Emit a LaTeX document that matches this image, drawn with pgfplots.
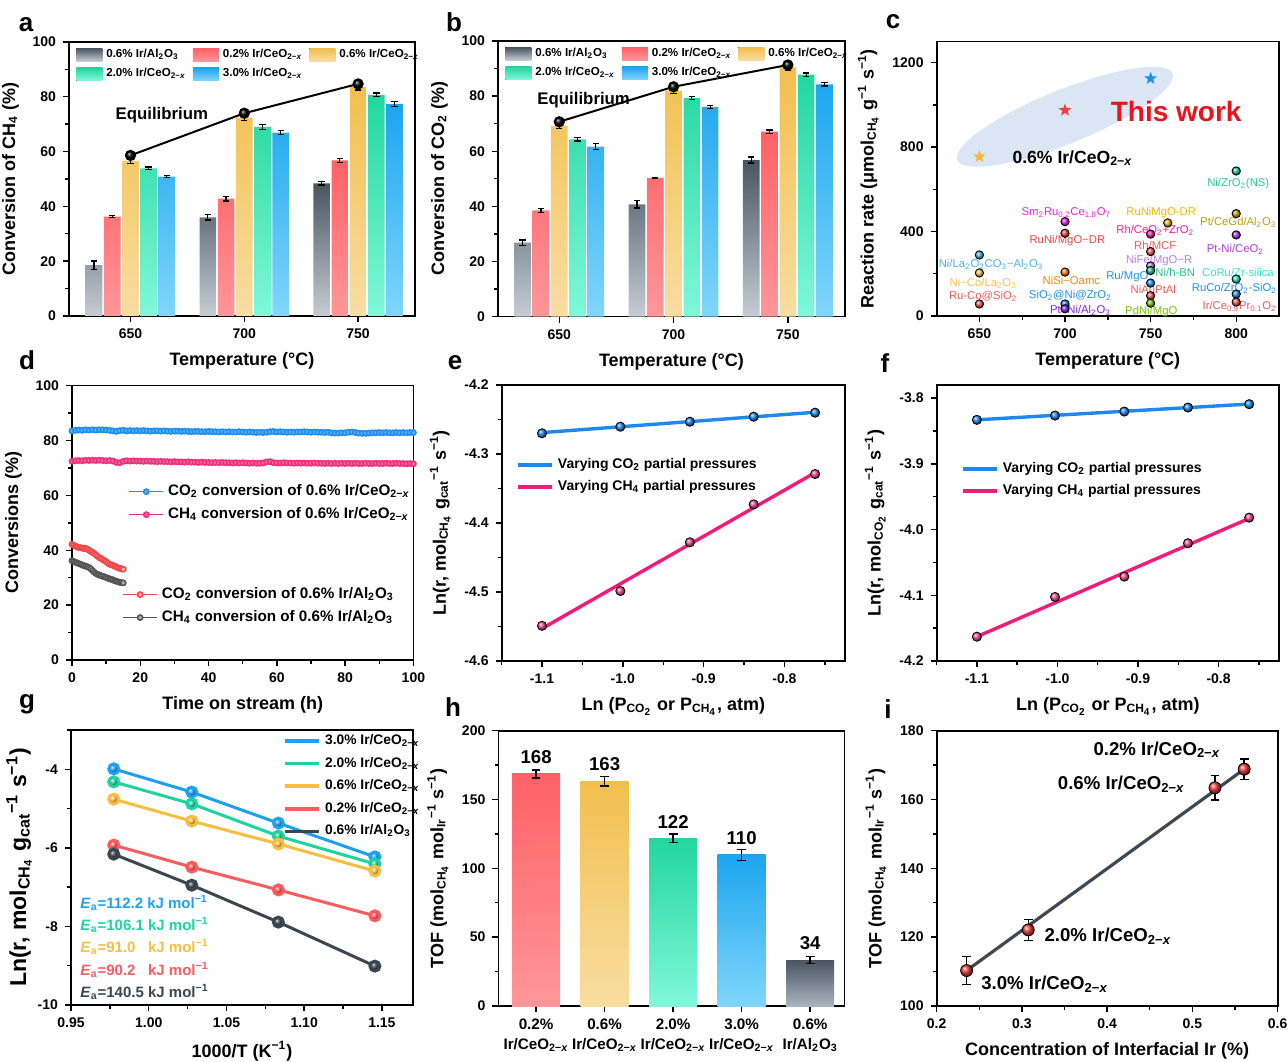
\documentclass[border=0pt]{standalone}
\usepackage{pgfplots}
\pgfplotsset{compat=1.18}
\usepackage{fontspec}
\setmainfont{Liberation Sans}
\definecolor{alT}{HTML}{4A5562}\definecolor{alB}{HTML}{C5CCD3}
\definecolor{rdT}{HTML}{FF6166}\definecolor{rdB}{HTML}{FF9699}
\definecolor{orT}{HTML}{F2BF4D}\definecolor{orB}{HTML}{F8DDA2}
\definecolor{grT}{HTML}{22D69E}\definecolor{grB}{HTML}{80F8DA}
\definecolor{blT}{HTML}{1CA5EF}\definecolor{blB}{HTML}{80D6FB}
\definecolor{hgB}{HTML}{A9B4BF}
\definecolor{ellc}{HTML}{DAE6F3}
\definecolor{starO}{HTML}{F5B83D}\definecolor{starR}{HTML}{EE4040}\definecolor{starB}{HTML}{1E90F0}
\definecolor{dblue}{HTML}{1E8FF0}\definecolor{dpink}{HTML}{EF2F7D}\definecolor{dred}{HTML}{F04848}\definecolor{dgray}{HTML}{555555}
\definecolor{eblue}{HTML}{1E88F0}\definecolor{epink}{HTML}{F21B7A}
\definecolor{gblue}{HTML}{1EA0F0}\definecolor{ggreen}{HTML}{1ED3A0}\definecolor{gorange}{HTML}{F7BE3F}\definecolor{gred}{HTML}{FF5A5E}\definecolor{gdark}{HTML}{3C4651}
\definecolor{iline}{HTML}{3D4A55}\definecolor{ired}{HTML}{F03C3C}
\definecolor{twork}{HTML}{E8151F}
\definecolor{cNiZr}{HTML}{1FD19B}\definecolor{cPtCeGd}{HTML}{C89B0A}\definecolor{cPtNiCe}{HTML}{B03AE0}
\definecolor{cCoRu}{HTML}{2EE6C9}\definecolor{cRuCo}{HTML}{1E90F0}\definecolor{cIrCe}{HTML}{F05A5A}
\definecolor{cRuNiMgO}{HTML}{F5B800}\definecolor{cRhCe}{HTML}{FF1AA0}\definecolor{cNiFe}{HTML}{B77CF2}
\definecolor{cNihBN}{HTML}{22C38D}\definecolor{cPdNi}{HTML}{79C600}\definecolor{cSm}{HTML}{FF1AE6}
\definecolor{cRuNi}{HTML}{F04545}\definecolor{cNiSi}{HTML}{FF7F0E}\definecolor{cPtNiAl}{HTML}{8A20F0}
\definecolor{cNiLa}{HTML}{4BB0E8}\definecolor{cNiCo}{HTML}{FFC04A}
\pgfdeclareplotmark{fstar}{%
  \pgfpathmoveto{\pgfpointpolar{90}{\pgfplotmarksize}}%
  \pgfpathlineto{\pgfpointpolar{126}{0.42\pgfplotmarksize}}%
  \pgfpathlineto{\pgfpointpolar{162}{\pgfplotmarksize}}%
  \pgfpathlineto{\pgfpointpolar{198}{0.42\pgfplotmarksize}}%
  \pgfpathlineto{\pgfpointpolar{234}{\pgfplotmarksize}}%
  \pgfpathlineto{\pgfpointpolar{270}{0.42\pgfplotmarksize}}%
  \pgfpathlineto{\pgfpointpolar{306}{\pgfplotmarksize}}%
  \pgfpathlineto{\pgfpointpolar{342}{0.42\pgfplotmarksize}}%
  \pgfpathlineto{\pgfpointpolar{18}{\pgfplotmarksize}}%
  \pgfpathlineto{\pgfpointpolar{54}{0.42\pgfplotmarksize}}%
  \pgfpathclose\pgfusepathqfill}
\newcommand{\sub}[1]{\textsubscript{#1}}
\newcommand{\sups}[1]{\textsuperscript{#1}}
\newcommand{\ceo}{CeO\sub{2−\textit{x}}}
\newcommand{\lab}[4]{\node[text=#3,font=\fontsize{5.65}{6.5}\selectfont,inner sep=0pt] at (axis cs:#1,#2) {#4};}
\newcommand{\ptc}[3]{\addplot[only marks,mark=ball,mark size=2.1pt,mark options={ball color=#3}] coordinates {(#1,#2)};}
\pgfplotsset{
  every axis/.append style={
    scale only axis, clip=false, anchor=south west,
    axis line style={line width=0.9pt},
    tick style={black,line width=0.7pt},
    major tick length=3pt, minor tick length=1.8pt,
    tick align=outside, xtick pos=left, ytick pos=left,
    tick label style={font=\bfseries\fontsize{7}{8}\selectfont},
    label style={font=\bfseries\fontsize{9}{10}\selectfont},
    /pgf/number format/assume math mode=true,
    /pgf/number format/1000 sep={},
    legend cell align=left,
  },
  barlegend/.style={
    legend columns=3,
    legend style={at={(0.02,0.99)}, anchor=north west, draw=none, fill=none, inner sep=0pt,
      font=\bfseries\fontsize{5.8}{6.5}\selectfont, row sep=0pt,
      /tikz/every even column/.append style={column sep=1.5pt}},
    legend image code/.code={\fill[##1] (0pt,-3.2pt) rectangle (13pt,3.2pt);},
  },
  ebar/.style={forget plot, draw=none, mark=none, error bars/.cd, y dir=both, y explicit,
    error bar style={draw=black,solid,line width=0.6pt}, error mark options={draw=black,solid,rotate=90,mark size=1.6pt,line width=0.6pt}},
  ebarh/.style={forget plot, draw=none, mark=none, error bars/.cd, y dir=both, y explicit,
    error bar style={draw=black,solid,line width=0.8pt}, error mark options={draw=black,solid,rotate=90,mark size=2.2pt,line width=0.8pt}},
}
\begin{document}
\begin{tikzpicture}
\useasboundingbox (0,0) rectangle (644pt,530.5pt);
% ---------------- panel a
\begin{axis}[at={(34.5pt,372.5pt)}, width=173pt, height=137pt, barlegend,
  xmin=623, xmax=775, ymin=0, ymax=100,
  xtick={650,700,750}, ytick={0,20,...,100}, minor y tick num=1,
  xlabel={Temperature (°C)}, ylabel={Conversion of CH\sub{4} (\%)}]
\addplot[ybar, bar width=7.3, bar shift=0pt, draw=none, top color=alT, bottom color=alB] coordinates {(634,18.6) (684,36.0) (734,48.4)};
\addlegendentry{0.6\% Ir/Al\sub{2}O\sub{3}}
\addplot[ybar, bar width=7.3, bar shift=0pt, draw=none, top color=rdT, bottom color=rdB] coordinates {(642,36.3) (692,42.8) (742,56.8)};
\addlegendentry{0.2\% Ir/\ceo}
\addplot[ybar, bar width=7.3, bar shift=0pt, draw=none, top color=orT, bottom color=orB] coordinates {(650,56.6) (700,72.4) (750,83.5)};
\addlegendentry{0.6\% Ir/\ceo}
\addplot[ybar, bar width=7.3, bar shift=0pt, draw=none, top color=grT, bottom color=grB] coordinates {(658,53.9) (708,69.0) (758,80.7)};
\addlegendentry{2.0\% Ir/\ceo}
\addplot[ybar, bar width=7.3, bar shift=0pt, draw=none, top color=blT, bottom color=blB] coordinates {(666,50.9) (716,66.9) (766,77.4)};
\addlegendentry{3.0\% Ir/\ceo}
\addplot[ebar] coordinates {(634,18.6)+-(0,1.5) (684,36.0)+-(0,1.0) (734,48.4)+-(0,0.6)
 (642,36.3)+-(0,0.4) (692,42.8)+-(0,0.8) (742,56.8)+-(0,0.8)
 (650,56.6)+-(0,1.0) (700,72.4)+-(0,1.0) (750,83.5)+-(0,1.0)
 (658,53.9)+-(0,0.5) (708,69.0)+-(0,1.0) (758,80.7)+-(0,0.7)
 (666,50.9)+-(0,0.5) (716,66.9)+-(0,0.7) (766,77.4)+-(0,0.9)};
\addplot[forget plot, black, line width=1pt, mark=ball, mark size=2.3pt, mark options={ball color=black}] coordinates {(650,58.6)(700,74.0)(750,84.7)};
\node[font=\bfseries\fontsize{8.4}{9}\selectfont, anchor=base west, inner sep=0pt] at (axis cs:643.3,71.8) {Equilibrium};
\end{axis}
% ---------------- panel b
\begin{axis}[at={(249pt,372.2pt)}, width=173.5pt, height=137.8pt, barlegend,
  xmin=623.2, xmax=775, ymin=0, ymax=100,
  xtick={650,700,750}, ytick={0,20,...,100}, minor y tick num=1,
  xlabel={Temperature (°C)}, ylabel={Conversion of CO\sub{2} (\%)}]
\addplot[ybar, bar width=7.3, bar shift=0pt, draw=none, top color=alT, bottom color=alB] coordinates {(634,26.8) (684,40.7) (734,56.8)};
\addlegendentry{0.6\% Ir/Al\sub{2}O\sub{3}}
\addplot[ybar, bar width=7.3, bar shift=0pt, draw=none, top color=rdT, bottom color=rdB] coordinates {(642,38.5) (692,50.3) (742,67.1)};
\addlegendentry{0.2\% Ir/\ceo}
\addplot[ybar, bar width=7.3, bar shift=0pt, draw=none, top color=orT, bottom color=orB] coordinates {(650,69.2) (700,82.0) (750,90.4)};
\addlegendentry{0.6\% Ir/\ceo}
\addplot[ybar, bar width=7.3, bar shift=0pt, draw=none, top color=grT, bottom color=grB] coordinates {(658,64.3) (708,79.4) (758,87.8)};
\addlegendentry{2.0\% Ir/\ceo}
\addplot[ybar, bar width=7.3, bar shift=0pt, draw=none, top color=blT, bottom color=blB] coordinates {(666,61.7) (716,76.1) (766,84.3)};
\addlegendentry{3.0\% Ir/\ceo}
\addplot[ebar] coordinates {(634,26.8)+-(0,1.0) (684,40.7)+-(0,1.3) (734,56.8)+-(0,1.1)
 (642,38.5)+-(0,0.6) (692,50.3)+-(0,0.3) (742,67.1)+-(0,0.6)
 (650,69.2)+-(0,1.0) (700,82.0)+-(0,1.0) (750,90.4)+-(0,1.0)
 (658,64.3)+-(0,0.6) (708,79.4)+-(0,0.5) (758,87.8)+-(0,0.6)
 (666,61.7)+-(0,1.1) (716,76.1)+-(0,0.6) (766,84.3)+-(0,0.6)};
\addplot[forget plot, black, line width=1pt, mark=ball, mark size=2.3pt, mark options={ball color=black}] coordinates {(650,70.7)(700,83.4)(750,91.3)};
\node[font=\bfseries\fontsize{8.4}{9}\selectfont, anchor=base west, inner sep=0pt] at (axis cs:640.3,77) {Equilibrium};
\end{axis}
% ---------------- panel c
\begin{axis}[at={(468.3pt,372.5pt)}, width=171.2pt, height=137.2pt,
  xmin=625, xmax=825, ymin=0, ymax=1300,
  xtick={650,700,750,800}, minor x tick num=1, ytick={0,400,800,1200}, minor y tick num=1,
  xlabel={Temperature (°C)}, ylabel={Reaction rate (μmol\sub{CH\sub{4}} g\sups{−1} s\sups{−1})}]
\fill[ellc, rotate around={21.9:(axis cs:699.9,944)}] (axis cs:699.9,944) ellipse [x radius=58pt, y radius=13.5pt];
\addplot[only marks, mark=fstar, mark size=3.3pt, color=starO] coordinates {(650,755)};
\addplot[only marks, mark=fstar, mark size=3.3pt, color=starR] coordinates {(700,975)};
\addplot[only marks, mark=fstar, mark size=3.3pt, color=starB] coordinates {(750,1125)};
\node[font=\bfseries\fontsize{14}{15}\selectfont, text=twork, anchor=base west, inner sep=0pt] at (axis cs:726.5,920) {This work};
\node[font=\bfseries\fontsize{8.8}{9}\selectfont, anchor=base west, inner sep=0pt] at (axis cs:669.1,723) {0.6\% Ir/\ceo};
\ptc{800}{687}{cNiZr}\ptc{800}{485}{cPtCeGd}\ptc{800}{384}{cPtNiCe}\ptc{800}{175}{cCoRu}
\ptc{800}{104}{cRuCo}\ptc{800}{66}{cIrCe}\ptc{760}{441}{cRuNiMgO}\ptc{750}{388}{cRhCe}
\ptc{750}{305}{cIrCe}\ptc{750}{237}{cNiFe}\ptc{750}{215}{cNihBN}\ptc{750}{156}{cRuCo}
\ptc{750}{96}{cIrCe}\ptc{750}{61}{cPdNi}\ptc{700}{447}{cSm}\ptc{700}{392}{cRuNi}
\ptc{700}{208}{cNiSi}\ptc{700}{57}{cRuCo}\ptc{700}{34}{cPtNiAl}\ptc{650}{289}{cNiLa}
\ptc{650}{204}{cNiCo}\ptc{650}{57}{cIrCe}
\lab{801.2}{625}{cNiZr}{Ni/ZrO\sub{2}(NS)}
\lab{801.2}{442}{cPtCeGd}{Pt/CeGd/Al\sub{2}O\sub{3}}
\lab{799.5}{317}{cPtNiCe}{Pt-Ni/CeO\sub{2}}
\lab{801}{208}{cCoRu}{CoRu/Zr-silica}
\lab{798.9}{133}{cRuCo}{RuCo/ZrO\sub{2}-SiO\sub{2}}
\lab{802}{43}{cIrCe}{Ir/Ce\sub{0.9}Pr\sub{0.1}O\sub{2}}
\lab{756.2}{488}{cRuNiMgO}{RuNiMgO-DR}
\lab{752.7}{407}{cRhCe}{Rh/CeO\sub{2}+ZrO\sub{2}}
\lab{752.7}{336}{cIrCe}{Rh/MCF}
\lab{755}{262}{cNiFe}{NiFe/MgO−R}
\lab{764.4}{208}{cNihBN}{Ni/h-BN}
\lab{736.4}{185}{cRuCo}{Ru/MgO}
\lab{751.6}{128}{cIrCe}{NiAuPtAl}
\lab{750.4}{20}{cPdNi}{PdNi/MgO}
\lab{700.8}{489}{cSm}{Sm\sub{2}Ru\sub{0.2}Ce\sub{1.8}O\sub{7}}
\lab{701.4}{357}{cRuNi}{RuNi/MgO−DR}
\lab{703.7}{170}{cNiSi}{NiSi−Oamc}
\lab{703.1}{99.5}{cRuCo}{SiO\sub{2}@Ni@ZrO\sub{2}}
\lab{709}{24}{cPtNiAl}{Pt−Ni/Al\sub{2}O\sub{3}}
\lab{656.8}{242}{cNiLa}{Ni/La\sub{2}O\sub{2}CO\sub{3}−Al\sub{2}O\sub{3}}
\lab{652.2}{152}{cNiCo}{Ni−Co/La\sub{2}O\sub{3}}
\lab{652.2}{91}{cIrCe}{Ru-Co@SiO\sub{2}}
\end{axis}
% ---------------- panel d
\begin{axis}[at={(36pt,200.5pt)}, width=170.7pt, height=137.2pt,
  xmin=0, xmax=100, ymin=0, ymax=100,
  xtick={0,20,...,100}, minor x tick num=1, ytick={0,20,...,100}, minor y tick num=1,
  xlabel={Time on stream (h)}, ylabel={Conversions (\%)},
  legend style={at={(0.164,0.655)}, anchor=north west, draw=none, fill=none, inner sep=0pt,
    font=\bfseries\fontsize{7.6}{8.5}\selectfont, row sep=0.5pt}]
\addplot[dblue, line width=0.8pt, mark=*, mark size=1.3pt, mark options={fill=dblue!70}] coordinates {
(0,83.5)(1,83.7)(2,83.8)(3,83.7)(4,83.9)(5,83.8)(6,83.9)(7,83.8)(8,83.9)(9,83.9)(10,83.8)(11,83.7)(12,83.5)(13,83.3)(14,83.6)(15,83.7)(16,83.5)(17,83.6)(18,83.5)(19,83.6)(20,83.5)
(21,83.6)(22,83.5)(23,83.4)(24,83.5)(25,83.5)(26,83.4)(27,83.5)(28,83.4)(29,83.3)(30,83.4)(31,83.4)(32,83.3)(33,83.4)(34,83.3)(35,83.2)(36,83.3)(37,83.3)(38,83.2)(39,83.2)(40,83.3)
(41,83.2)(42,83.2)(43,83.1)(44,83.2)(45,83.1)(46,83.2)(47,83.1)(48,83.1)(49,83.2)(50,83.1)(51,83.0)(52,83.1)(53,83.0)(54,82.9)(55,83.0)(56,82.9)(57,83.0)(58,83.2)(59,83.3)(60,83.1)
(61,83.2)(62,83.1)(63,83.0)(64,83.1)(65,83.0)(66,83.1)(67,83.1)(68,83.2)(69,83.1)(70,83.0)(71,83.1)(72,83.0)(73,83.0)(74,82.9)(75,83.0)(76,82.8)(77,82.7)(78,82.7)(79,82.8)(80,82.8)
(81,83.0)(82,83.1)(83,82.9)(84,82.7)(85,82.6)(86,82.6)(87,82.7)(88,82.8)(89,82.8)(90,82.9)(91,82.8)(92,82.9)(93,82.8)(94,82.8)(95,82.9)(96,82.8)(97,82.9)(98,82.8)(99,82.9)(100,82.9)};
\addlegendentry{CO\sub{2} conversion of 0.6\% Ir/\ceo}
\addplot[dpink, line width=0.8pt, mark=*, mark size=1.3pt, mark options={fill=dpink!70}] coordinates {
(0,72.4)(1,72.6)(2,72.7)(3,72.6)(4,72.8)(5,72.7)(6,72.8)(7,72.7)(8,72.8)(9,72.7)(10,72.6)(11,72.7)(12,72.5)(13,72.0)(14,71.9)(15,72.4)(16,72.6)(17,72.5)(18,72.6)(19,72.5)(20,72.5)
(21,72.4)(22,72.5)(23,72.4)(24,72.4)(25,72.3)(26,72.4)(27,72.3)(28,72.3)(29,72.2)(30,72.3)(31,72.2)(32,72.2)(33,72.1)(34,72.2)(35,72.1)(36,72.1)(37,72.0)(38,72.1)(39,72.0)(40,72.0)
(41,71.9)(42,72.0)(43,71.9)(44,72.0)(45,71.9)(46,71.9)(47,71.8)(48,71.9)(49,71.8)(50,71.9)(51,71.8)(52,71.7)(53,71.8)(54,71.7)(55,71.7)(56,71.8)(57,72.2)(58,72.3)(59,71.9)(60,71.8)
(61,71.8)(62,71.9)(63,71.8)(64,71.8)(65,71.7)(66,71.8)(67,71.7)(68,71.8)(69,71.7)(70,71.7)(71,71.8)(72,71.7)(73,71.7)(74,71.6)(75,71.7)(76,71.6)(77,71.7)(78,71.6)(79,71.7)(80,71.6)
(81,71.7)(82,71.6)(83,71.7)(84,71.6)(85,71.6)(86,71.7)(87,71.6)(88,71.6)(89,71.7)(90,71.6)(91,71.6)(92,71.7)(93,71.6)(94,71.6)(95,71.7)(96,71.6)(97,71.6)(98,71.5)(99,71.6)(100,71.5)};
\addlegendentry{CH\sub{4} conversion of 0.6\% Ir/\ceo}
\end{axis}
\begin{axis}[at={(36pt,200.5pt)}, width=170.7pt, height=137.2pt, hide axis,
  xmin=0, xmax=100, ymin=0, ymax=100,
  legend style={at={(0.146,0.28)}, anchor=north west, draw=none, fill=none, inner sep=0pt,
    font=\bfseries\fontsize{7.6}{8.5}\selectfont, row sep=0.5pt}]
\addplot[dred, line width=0.8pt, mark=*, mark size=1.3pt, mark options={fill=dred!35}] coordinates {
(0,42.2)(0.5,41.8)(1,41.5)(1.5,41.2)(2,41.0)(2.5,40.9)(3,40.8)(3.5,40.6)(4,40.7)(4.5,40.4)(5,40.0)(5.5,39.6)(6,39.2)(6.5,38.8)(7,38.3)(7.5,37.8)
(8,37.3)(8.5,37.0)(9,36.6)(9.5,36.2)(10,35.8)(10.5,35.3)(11,34.9)(11.5,34.7)(12,34.5)(12.5,34.2)(13,33.9)(13.5,33.6)(14,33.4)(14.5,33.2)(15,33.1)};
\addlegendentry{CO\sub{2} conversion of 0.6\% Ir/Al\sub{2}O\sub{3}}
\addplot[dgray, line width=0.8pt, mark=*, mark size=1.3pt, mark options={fill=dgray!45}] coordinates {
(0,36.2)(0.5,35.9)(1,35.6)(1.5,35.4)(2,35.1)(2.5,34.9)(3,34.6)(3.5,34.4)(4,34.2)(4.5,34.0)(5,33.7)(5.5,33.2)(6,32.6)(6.5,32.0)(7,31.5)(7.5,31.2)
(8,31.0)(8.5,30.7)(9,30.5)(9.5,30.3)(10,30.1)(10.5,29.8)(11,29.6)(11.5,29.4)(12,29.2)(12.5,28.9)(13,28.7)(13.5,28.5)(14,28.3)(14.5,28.2)(15,28.1)};
\addlegendentry{CH\sub{4} conversion of 0.6\% Ir/Al\sub{2}O\sub{3}}
\end{axis}
% ---------------- panel e
\begin{axis}[at={(250.8pt,200pt)}, width=171.7pt, height=138pt,
  xmin=-1.15, xmax=-0.725, ymin=-4.6, ymax=-4.2,
  xtick={-1.1,-1.0,-0.9,-0.8}, minor xtick={-1.15,-1.05,-0.95,-0.85,-0.75},
  ytick={-4.6,-4.5,-4.4,-4.3,-4.2}, minor ytick={-4.55,-4.45,-4.35,-4.25},
  xticklabel style={/pgf/number format/fixed, /pgf/number format/fixed zerofill, /pgf/number format/precision=1},
  yticklabel style={/pgf/number format/fixed, /pgf/number format/fixed zerofill, /pgf/number format/precision=1},
  xlabel={Ln (P\sub{CO\sub{2}} or P\sub{CH\sub{4}}, atm)},
  ylabel={Ln(r, mol\sub{CH\sub{4}} g\sub{cat}\sups{−1} s\sups{−1})},
  legend style={at={(0.042,0.75)}, anchor=north west, draw=none, fill=none, inner sep=0pt,
    font=\bfseries\fontsize{7}{8}\selectfont, row sep=0.5pt}]
\addplot[eblue, line width=1.7pt] coordinates {(-1.1,-4.269)(-0.762,-4.2395)};
\addlegendentry{Varying CO\sub{2} partial pressures}
\addplot[epink, line width=1.7pt] coordinates {(-1.1,-4.553)(-0.762,-4.327)};
\addlegendentry{Varying CH\sub{4} partial pressures}
\addplot[forget plot, only marks, mark=ball, mark size=2.3pt, mark options={ball color=eblue}] coordinates {(-1.1,-4.270)(-1.003,-4.2604)(-0.917,-4.2532)(-0.838,-4.2459)(-0.762,-4.2401)};
\addplot[forget plot, only marks, mark=ball, mark size=2.3pt, mark options={ball color=epink!80}] coordinates {(-1.1,-4.549)(-1.003,-4.4986)(-0.917,-4.428)(-0.838,-4.373)(-0.762,-4.329)};
\end{axis}
% ---------------- panel f
\begin{axis}[at={(468.3pt,200pt)}, width=171.2pt, height=138pt,
  xmin=-1.15, xmax=-0.725, ymin=-4.2, ymax=-3.78,
  xtick={-1.1,-1.0,-0.9,-0.8}, minor xtick={-1.15,-1.05,-0.95,-0.85,-0.75},
  ytick={-4.2,-4.1,-4.0,-3.9,-3.8}, minor ytick={-4.15,-4.05,-3.95,-3.85},
  xticklabel style={/pgf/number format/fixed, /pgf/number format/fixed zerofill, /pgf/number format/precision=1},
  yticklabel style={/pgf/number format/fixed, /pgf/number format/fixed zerofill, /pgf/number format/precision=1},
  xlabel={Ln (P\sub{CO\sub{2}} or P\sub{CH\sub{4}}, atm)},
  ylabel={Ln(r, mol\sub{CO\sub{2}} g\sub{cat}\sups{−1} s\sups{−1})},
  legend style={at={(0.071,0.736)}, anchor=north west, draw=none, fill=none, inner sep=0pt,
    font=\bfseries\fontsize{7}{8}\selectfont, row sep=0.5pt}]
\addplot[eblue, line width=1.7pt] coordinates {(-1.1,-3.833)(-0.762,-3.809)};
\addlegendentry{Varying CO\sub{2} partial pressures}
\addplot[epink, line width=1.7pt] coordinates {(-1.1,-4.163)(-0.762,-3.983)};
\addlegendentry{Varying CH\sub{4} partial pressures}
\addplot[forget plot, only marks, mark=ball, mark size=2.3pt, mark options={ball color=eblue}] coordinates {(-1.1,-3.833)(-1.003,-3.8265)(-0.917,-3.8204)(-0.838,-3.8143)(-0.762,-3.8092)};
\addplot[forget plot, only marks, mark=ball, mark size=2.3pt, mark options={ball color=epink!80}] coordinates {(-1.1,-4.163)(-1.003,-4.1026)(-0.917,-4.0716)(-0.838,-4.0208)(-0.762,-3.9818)};
\end{axis}
% ---------------- panel g
\begin{axis}[at={(35.5pt,28pt)}, width=171pt, height=137.5pt,
  xmin=0.95, xmax=1.17, ymin=-10, ymax=-3,
  xtick={0.95,1.00,1.05,1.10,1.15}, minor xtick={0.975,1.025,1.075,1.125},
  ytick={-10,-8,-6,-4}, minor ytick={-9,-7,-5,-3},
  xticklabel style={/pgf/number format/fixed, /pgf/number format/fixed zerofill, /pgf/number format/precision=2},
  xlabel={1000/T (K\sups{−1})},
  ylabel={Ln(r, mol\sub{CH\sub{4}} g\sub{cat}\sups{−1} s\sups{−1})},
  ylabel style={font=\bfseries\fontsize{11.5}{12.5}\selectfont}, ylabel shift=-4pt,
  legend style={at={(0.62,1.0)}, anchor=north west, draw=none, fill=none, inner sep=0pt,
    font=\bfseries\fontsize{6.9}{7.8}\selectfont, row sep=0.8pt}]
\addlegendimage{gblue, line width=1.8pt}\addlegendentry{3.0\% Ir/\ceo}
\addlegendimage{ggreen, line width=1.8pt}\addlegendentry{2.0\% Ir/\ceo}
\addlegendimage{gorange, line width=1.8pt}\addlegendentry{0.6\% Ir/\ceo}
\addlegendimage{gred, line width=1.8pt}\addlegendentry{0.2\% Ir/\ceo}
\addlegendimage{gdark, line width=1.8pt}\addlegendentry{0.6\% Ir/Al\sub{2}O\sub{3}}
\addplot[forget plot, gblue, line width=1.5pt, mark=ball, mark size=2.5pt, mark options={ball color=gblue}] coordinates {(0.9775,-3.99)(1.0277,-4.58)(1.0834,-5.37)(1.1455,-6.23)};
\addplot[forget plot, ggreen, line width=1.5pt, mark=ball, mark size=2.5pt, mark options={ball color=ggreen}] coordinates {(0.9775,-4.32)(1.0277,-4.88)(1.0834,-5.70)(1.1455,-6.41)};
\addplot[forget plot, gorange, line width=1.5pt, mark=ball, mark size=2.5pt, mark options={ball color=gorange}] coordinates {(0.9775,-4.76)(1.0277,-5.32)(1.0834,-5.90)(1.1455,-6.59)};
\addplot[forget plot, gred, line width=1.5pt, mark=ball, mark size=2.5pt, mark options={ball color=gred}] coordinates {(0.9775,-5.93)(1.0277,-6.49)(1.0834,-7.07)(1.1455,-7.73)};
\addplot[forget plot, gdark, line width=1.5pt, mark=ball, mark size=2.5pt, mark options={ball color=gdark}] coordinates {(0.9775,-6.16)(1.0277,-6.95)(1.0834,-7.89)(1.1455,-9.01)};
\node[text=gblue, font=\bfseries\fontsize{7.5}{8.5}\selectfont, anchor=base west, inner sep=0pt] at (axis cs:0.9558,-7.54) {\textit{E}\sub{a}=112.2 kJ mol\sups{−1}};
\node[text=ggreen, font=\bfseries\fontsize{7.5}{8.5}\selectfont, anchor=base west, inner sep=0pt] at (axis cs:0.9558,-8.11) {\textit{E}\sub{a}=106.1 kJ mol\sups{−1}};
\node[text=gorange, font=\bfseries\fontsize{7.5}{8.5}\selectfont, anchor=base west, inner sep=0pt] at (axis cs:0.9558,-8.67) {\textit{E}\sub{a}=91.0\hphantom{0} kJ mol\sups{−1}};
\node[text=gred, font=\bfseries\fontsize{7.5}{8.5}\selectfont, anchor=base west, inner sep=0pt] at (axis cs:0.9558,-9.24) {\textit{E}\sub{a}=90.2\hphantom{0} kJ mol\sups{−1}};
\node[text=gdark, font=\bfseries\fontsize{7.5}{8.5}\selectfont, anchor=base west, inner sep=0pt] at (axis cs:0.9558,-9.80) {\textit{E}\sub{a}=140.5 kJ mol\sups{−1}};
\end{axis}
% ---------------- panel h
\begin{axis}[at={(249.2pt,27.5pt)}, width=173pt, height=137.7pt,
  xmin=-0.55, xmax=4.5, ymin=0, ymax=200,
  xtick={0,1,2,3,4},
  xticklabels={{0.2\%\\Ir/\ceo},{0.6\%\\Ir/\ceo},{2.0\%\\Ir/\ceo},{3.0\%\\Ir/\ceo},{0.6\%\\Ir/Al\sub{2}O\sub{3}}},
  xticklabel style={align=center, font=\bfseries\fontsize{7.6}{9.8}\selectfont},
  ytick={0,50,...,200}, minor y tick num=1,
  ylabel={TOF (mol\sub{CH\sub{4}} mol\sub{Ir}\sups{−1} s\sups{−1})}]
\addplot[ybar, bar width=0.7, bar shift=0pt, draw=none, top color=rdT, bottom color=rdB] coordinates {(0,168.5)};
\addplot[ybar, bar width=0.7, bar shift=0pt, draw=none, top color=orT, bottom color=orB] coordinates {(1,163.2)};
\addplot[ybar, bar width=0.7, bar shift=0pt, draw=none, top color=grT, bottom color=grB] coordinates {(2,121.8)};
\addplot[ybar, bar width=0.7, bar shift=0pt, draw=none, top color=blT, bottom color=blB] coordinates {(3,109.7)};
\addplot[ybar, bar width=0.7, bar shift=0pt, draw=none, top color=alT, bottom color=hgB] coordinates {(4,33.4)};
\addplot[ebarh] coordinates {(0,168.5)+-(0,3) (1,163.2)+-(0,3.5) (2,121.8)+-(0,3) (3,109.7)+-(0,4) (4,33.4)+-(0,2.5)};
\node[font=\bfseries\fontsize{9.3}{10}\selectfont, anchor=base, inner sep=0pt] at (axis cs:0,176.3) {168};
\node[font=\bfseries\fontsize{9.3}{10}\selectfont, anchor=base, inner sep=0pt] at (axis cs:1,170.7) {163};
\node[font=\bfseries\fontsize{9.3}{10}\selectfont, anchor=base, inner sep=0pt] at (axis cs:2,129.1) {122};
\node[font=\bfseries\fontsize{9.3}{10}\selectfont, anchor=base, inner sep=0pt] at (axis cs:3,117) {110};
\node[font=\bfseries\fontsize{9.3}{10}\selectfont, anchor=base, inner sep=0pt] at (axis cs:4,41.2) {34};
\end{axis}
% ---------------- panel i
\begin{axis}[at={(468.3pt,27.5pt)}, width=170.5pt, height=137.7pt,
  xmin=0.2, xmax=0.6, ymin=100, ymax=180,
  xtick={0.2,0.3,0.4,0.5,0.6}, minor x tick num=1, ytick={100,120,...,180}, minor y tick num=1,
  xticklabel style={/pgf/number format/fixed, /pgf/number format/precision=1},
  xlabel={Concentration of Interfacial Ir (\%)},
  ylabel={TOF (mol\sub{CH\sub{4}} mol\sub{Ir}\sups{−1} s\sups{−1})}]
\addplot[iline, line width=1.6pt] coordinates {(0.2352,110.3)(0.5608,168.8)};
\addplot[only marks, mark=ball, mark size=3pt, mark options={ball color=ired}, error bars/.cd, y dir=both, y explicit,
  error bar style={black,line width=0.7pt}, error mark options={black,rotate=90,mark size=2.2pt,line width=0.7pt}]
  coordinates {(0.2352,110.3)+-(0,4) (0.3075,122.1)+-(0,3) (0.5265,163.4)+-(0,3.5) (0.5608,168.8)+-(0,3)};
\node[font=\bfseries\fontsize{9.3}{10}\selectfont, anchor=base west, inner sep=0pt] at (axis cs:0.3837,172.9) {0.2\% Ir/\ceo};
\node[font=\bfseries\fontsize{9.3}{10}\selectfont, anchor=base west, inner sep=0pt] at (axis cs:0.3419,163.0) {0.6\% Ir/\ceo};
\node[font=\bfseries\fontsize{9.3}{10}\selectfont, anchor=base west, inner sep=0pt] at (axis cs:0.3262,118.7) {2.0\% Ir/\ceo};
\node[font=\bfseries\fontsize{9.3}{10}\selectfont, anchor=base west, inner sep=0pt] at (axis cs:0.252,104.9) {3.0\% Ir/\ceo};
\end{axis}
% ---------------- panel letters
\begin{scope}[every node/.style={font=\bfseries\fontsize{13}{13}\selectfont}]
\node at (13pt,518pt) {a};
\node at (227pt,519.5pt) {b};
\node at (446.5pt,519.5pt) {c};
\node at (13.5pt,350.5pt) {d};
\node at (227.5pt,349pt) {e};
\node at (442.5pt,349pt) {f};
\node at (13.5pt,178.5pt) {g};
\node at (226.5pt,177pt) {h};
\node at (444pt,176pt) {i};
\end{scope}
\end{tikzpicture}
\end{document}
